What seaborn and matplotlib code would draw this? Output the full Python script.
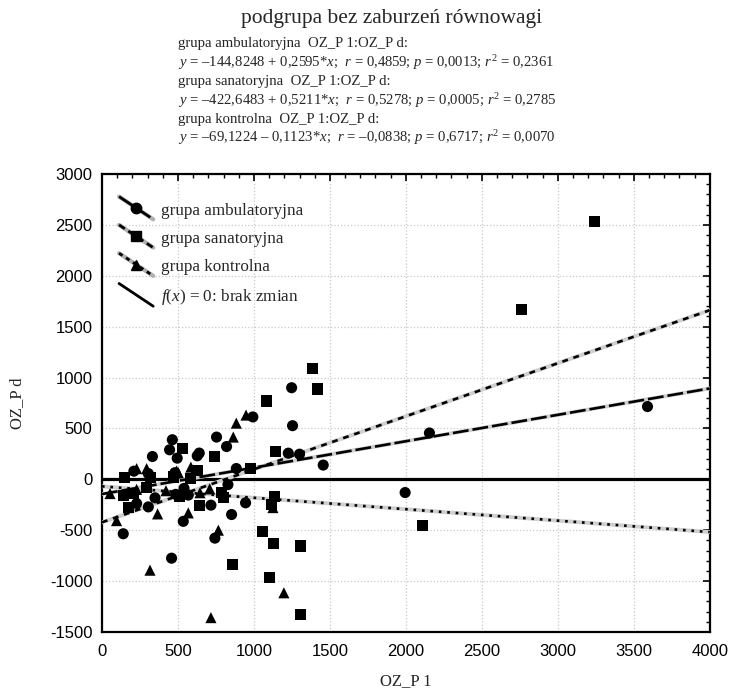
import numpy as np
import pandas as pd
import seaborn as sns
import matplotlib
matplotlib.use("Agg")
import matplotlib.pyplot as plt
from matplotlib.lines import Line2D
from matplotlib.legend_handler import HandlerBase
from matplotlib.ticker import MultipleLocator

# ---------------- data ----------------
groups = ["grupa ambulatoryjna", "grupa sanatoryjna", "grupa kontrolna"]

amb_x = [3590, 2155, 1995, 1456, 1248, 1254, 1226, 1300, 993, 754, 820, 884,
         463, 445, 495, 332, 640, 627, 210, 305, 480, 540, 568, 349, 228, 305,
         717, 945, 829, 853, 535, 743, 458, 140, 485]
amb_y = [715, 455, -130, 140, 900, 527, 257, 247, 613, 415, 322, 106,
         389, 290, 208, 224, 258, 231, 80, 56, 65, -89, -155, -182, -238, -271,
         -254, -231, -52, -346, -413, -578, -775, -535, -148]

san_x = [3243, 2761, 2110, 1388, 1419, 1080, 1141, 979, 743, 529, 625, 151,
         322, 469, 140, 210, 173, 294, 513, 640, 785, 798, 1133, 1116, 1055,
         1127, 1308, 857, 1105, 1309, 580]
san_y = [2532, 1665, -455, 1085, 887, 770, 273, 109, 224, 306, 89, 22,
         22, 23, -162, -138, -276, -82, -165, -254, -132, -181, -165, -248, -511,
         -635, -655, -841, -965, -1329, 10]

kon_x = [53, 96, 228, 294, 228, 366, 316, 421, 502, 491, 585, 645, 709, 568,
         766, 717, 1197, 1125, 864, 884, 948]
kon_y = [-140, -406, 105, 105, -99, -340, -893, -112, 66, 82, 120, -132, -94,
         -330, -500, -1359, -1115, -278, 415, 552, 631]

intercepts = [-144.8248, -422.6483, -69.1224]
slopes = [0.2595, 0.5211, -0.1123]
x_range = [0, 4000]

title = "podgrupa bez zaburzeń równowagi"
subtitle_lines = [
    "grupa ambulatoryjna  OZ_P 1:OZ_P d:",
    r"$y$ = –144,8248 + 0,2595*$x$;  $r$ = 0,4859; $p$ = 0,0013; $r^2$ = 0,2361",
    "grupa sanatoryjna  OZ_P 1:OZ_P d:",
    r"$y$ = –422,6483 + 0,5211*$x$;  $r$ = 0,5278; $p$ = 0,0005; $r^2$ = 0,2785",
    "grupa kontrolna  OZ_P 1:OZ_P d:",
    r"$y$ = –69,1224 – 0,1123*$x$;  $r$ = –0,0838; $p$ = 0,6717; $r^2$ = 0,0070",
]
legend_labels = groups + [r"$f(x)$ = 0: brak zmian"]

# ---------------- style ----------------
sns.set_theme(style="white")
plt.rcParams['font.family'] = ['Liberation Serif', 'DejaVu Serif']
plt.rcParams['mathtext.fontset'] = 'custom'
plt.rcParams['mathtext.rm'] = 'Liberation Serif'
plt.rcParams['mathtext.it'] = 'Liberation Serif:italic'
plt.rcParams['mathtext.bf'] = 'Liberation Serif:bold'
plt.rcParams['axes.unicode_minus'] = False

fig = plt.figure(figsize=(7.31, 6.96), dpi=100)
ax = fig.add_axes([0.1395, 0.092, 0.8315, 0.658])

markers = {groups[0]: 'o', groups[1]: 's', groups[2]: '^'}
line_styles = [(0, (6, 1.5)), (0, (2.2, 2.2)), (0, (1, 2.2))]

df = pd.concat([
    pd.DataFrame({'x': amb_x, 'y': amb_y, 'grupa': groups[0]}),
    pd.DataFrame({'x': san_x, 'y': san_y, 'grupa': groups[1]}),
    pd.DataFrame({'x': kon_x, 'y': kon_y, 'grupa': groups[2]}),
], ignore_index=True)

# zero line
ax.axhline(0, color='black', lw=2.3, zorder=2)

# regression lines
for g, a, b, ls in zip(groups, intercepts, slopes, line_styles):
    ldf = pd.DataFrame({'x': x_range, 'y': [a + b * v for v in x_range]})
    sns.lineplot(data=ldf, x='x', y='y', color='#cfcfcf', lw=2.8, ax=ax, zorder=3)
    sns.lineplot(data=ldf, x='x', y='y', color='black', lw=1.9, linestyle=ls, ax=ax, zorder=4)

sns.scatterplot(data=df, x='x', y='y', style='grupa', markers=markers,
                color='black', s=64, linewidth=0, legend=False, ax=ax, zorder=5)

ax.set_xlim(0, 4000)
ax.set_ylim(-1500, 3000)
ax.xaxis.set_major_locator(MultipleLocator(500))
ax.xaxis.set_minor_locator(MultipleLocator(100))
ax.yaxis.set_major_locator(MultipleLocator(500))
ax.yaxis.set_minor_locator(MultipleLocator(100))
ax.grid(True, which='major', color='#c8c8c8', linestyle=':', lw=0.9)
ax.set_axisbelow(True)
ax.tick_params(which='both', direction='in', top=True, right=True, colors='black')
ax.tick_params(which='major', length=5, width=1.2, labelsize=12)
ax.tick_params(which='minor', length=3, width=1.0)
ax.tick_params(axis='x', which='major', pad=9)
ax.tick_params(axis='y', which='major', pad=7)
for lab in ax.get_xticklabels() + ax.get_yticklabels():
    lab.set_fontfamily('Liberation Sans')
for sp in ax.spines.values():
    sp.set_color('black')
    sp.set_linewidth(1.6)

ax.set_xlabel("OZ_P 1", fontsize=12, labelpad=10)
ax.set_ylabel("OZ_P d", fontsize=12, labelpad=18)


# legend with slanted handles
class DiagHandler(HandlerBase):
    def __init__(self, ls, marker, under=True):
        super().__init__()
        self.ls = ls
        self.marker = marker
        self.under = under

    def create_artists(self, legend, orig_handle, xdescent, ydescent, width, height,
                       fontsize, trans):
        x0, x1 = -xdescent, -xdescent + width
        y0, y1 = -ydescent + height * 1.5, -ydescent - height * 0.4
        arts = []
        if self.under:
            arts.append(Line2D([x0, x1], [y0, y1], color='#b0b0b0', lw=3.0, transform=trans))
        arts.append(Line2D([x0, x1], [y0, y1], color='black', lw=2.0,
                           linestyle=self.ls, transform=trans))
        if self.marker:
            arts.append(Line2D([(x0 + x1) / 2], [(y0 + y1) / 2], marker=self.marker,
                               color='black', markersize=7.5, linestyle='none',
                               transform=trans))
        return arts


handles = [Line2D([], []) for _ in range(4)]
hmap = {
    handles[0]: DiagHandler((0, (6, 1.5)), 'o'),
    handles[1]: DiagHandler((0, (2.5, 1.5)), 's'),
    handles[2]: DiagHandler((0, (1.5, 1.5)), '^'),
    handles[3]: DiagHandler('-', None, under=False),
}
ax.legend(handles, legend_labels, handler_map=hmap, loc='upper left',
          bbox_to_anchor=(0.0, 0.975), frameon=False, fontsize=12.3,
          handlelength=2.0, labelspacing=0.72, handletextpad=0.45, borderaxespad=0.6)

# title and subtitle
fig.text(0.535, 0.974, title, ha='center', va='center', fontsize=15.5)
y0 = 44
for i, line in enumerate(subtitle_lines):
    fig.text(0.2435, 1 - (y0 + i * 18.8) / 696, line, ha='left', va='center', fontsize=10.6)

fig.savefig("out.png", dpi=100)
